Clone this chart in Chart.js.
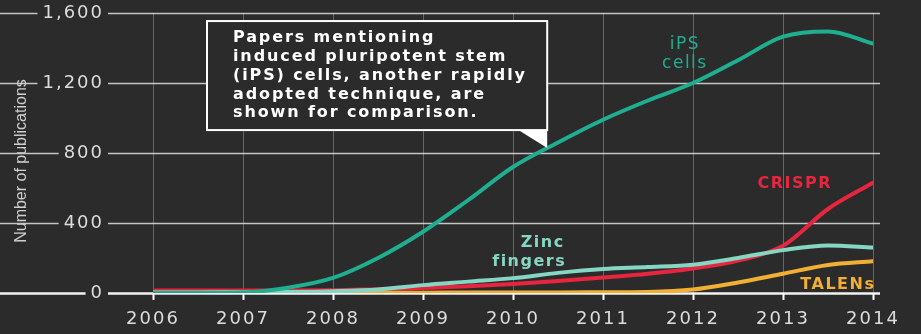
<!DOCTYPE html>
<html>
<head>
<meta charset="utf-8">
<script src="https://cdn.jsdelivr.net/npm/chart.js@4/dist/chart.umd.min.js"></script>
<style>
  html, body { margin: 0; padding: 0; background: #2b2b2b; }
  #wrap { width: 921px; height: 334px; }
</style>
</head>
<body>
<div id="wrap"><canvas id="chart" width="921" height="334"></canvas></div>
<script>
// half-year steps
const years = [2006, 2006.5, 2007, 2007.5, 2008, 2008.5, 2009, 2009.5, 2010, 2010.5, 2011, 2011.5, 2012, 2012.5, 2013, 2013.5, 2014];
const ipsCells = [0, 0, 3, 30, 86, 200, 350, 530, 720, 860, 990, 1100, 1200, 1330, 1465, 1495, 1425];
const zincFingers = [3, 3, 5, 6, 10, 20, 45, 65, 85, 115, 137, 148, 162, 200, 245, 272, 260];
const crispr = [14, 14, 15, 15, 16, 22, 28, 38, 52, 68, 88, 110, 140, 185, 270, 480, 630];
const talens = [2, 2, 2, 2, 2, 2, 2, 3, 3, 3, 4, 6, 20, 60, 110, 160, 182];
const yTicks = [0, 400, 800, 1200, 1600];
const yTitle = "Number of publications";
const calloutLines = [
  "Papers mentioning",
  "induced pluripotent stem",
  "(iPS) cells, another rapidly",
  "adopted technique, are",
  "shown for comparison.",
];

const BG = "#2b2b2b";
const COLORS = { ips: "#1fae90", zinc: "#86d6c4", crispr: "#e8253f", talens: "#f1b033" };
const TICK_FONT = { family: "DejaVu Sans", size: 18 };
const TICK_SPACING = "2px";

const pts = (arr) => years.map((x, i) => ({ x, y: arr[i] }));

// series labels placed in data units
const seriesLabels = [
  { text: "iPS", x: 2011.91, y: 1417, color: COLORS.ips, bold: false, size: 17 },
  { text: "cells", x: 2011.91, y: 1309, color: COLORS.ips, bold: false, size: 17 },
  { text: "CRISPR", x: 2013.13, y: 623, color: COLORS.crispr, bold: true, size: 16 },
  { text: "Zinc", x: 2010.33, y: 286, color: COLORS.zinc, bold: true, size: 16 },
  { text: "fingers", x: 2010.18, y: 177, color: COLORS.zinc, bold: true, size: 16 },
  { text: "TALENs", x: 2013.61, y: 46, color: COLORS.talens, bold: true, size: 16 },
];
const callout = { x0: 2006.6, x1: 2010.38, yTop: 1554, yBot: 931, tipX: 2010.38, tipY: 829, baseX: 2010.06 };

const decor = {
  id: "decor",
  beforeLayout(chart) { chart.ctx.letterSpacing = TICK_SPACING; },
  beforeDraw(chart) {
    const { ctx, scales: { y }, chartArea: a } = chart;
    ctx.save();
    ctx.fillStyle = BG;
    ctx.fillRect(0, 0, chart.width, chart.height);
    for (const v of yTicks) {
      const py = Math.round(y.getPixelForValue(v)) + 0.5;
      ctx.beginPath();
      ctx.moveTo(0, py);
      ctx.lineTo(a.right + 7, py);
      ctx.strokeStyle = v === 0 ? "#f2f2f2" : "rgba(235,235,235,0.8)";
      ctx.lineWidth = v === 0 ? 2.5 : 1.5;
      ctx.stroke();
    }
    // axis title
    ctx.translate(22, (a.top + a.bottom) / 2 + 8);
    ctx.rotate(-Math.PI / 2);
    ctx.letterSpacing = "0px";
    ctx.font = "16px 'Liberation Sans'";
    ctx.fillStyle = "#cfcfcf";
    ctx.textAlign = "center";
    ctx.textBaseline = "middle";
    ctx.fillText(yTitle, 0, 0);
    ctx.restore();
    ctx.letterSpacing = TICK_SPACING;
  },
  afterDatasetsDraw(chart) {
    const { ctx, scales: { x, y } } = chart;
    ctx.save();
    ctx.textAlign = "center";
    ctx.textBaseline = "middle";
    for (const l of seriesLabels) {
      ctx.font = (l.bold ? "bold " : "") + l.size + "px 'DejaVu Sans'";
      ctx.letterSpacing = "1.5px";
      ctx.fillStyle = l.color;
      ctx.fillText(l.text, x.getPixelForValue(l.x), y.getPixelForValue(l.y));
    }

    // callout box
    const L = x.getPixelForValue(callout.x0), R = x.getPixelForValue(callout.x1);
    const T = y.getPixelForValue(callout.yTop), B = y.getPixelForValue(callout.yBot);
    ctx.fillStyle = BG;
    ctx.fillRect(L, T, R - L, B - T);
    ctx.strokeStyle = "#ffffff";
    ctx.lineWidth = 2;
    ctx.strokeRect(L, T, R - L, B - T);
    ctx.beginPath();
    ctx.moveTo(x.getPixelForValue(callout.baseX), B);
    ctx.lineTo(x.getPixelForValue(callout.tipX), B);
    ctx.lineTo(x.getPixelForValue(callout.tipX), y.getPixelForValue(callout.tipY));
    ctx.closePath();
    ctx.fillStyle = "#ffffff";
    ctx.fill();

    ctx.font = "bold 16px 'DejaVu Sans'";
    ctx.letterSpacing = "0px";
    const w = ctx.measureText(calloutLines[2]).width;
    const ls = Math.max(0, Math.min(3, (292 - w) / (calloutLines[2].length - 1)));
    ctx.letterSpacing = ls.toFixed(2) + "px";
    ctx.textAlign = "left";
    ctx.fillStyle = "#ffffff";
    calloutLines.forEach((t, i) => ctx.fillText(t, L + 26, T + 17 + i * 18.8));
    ctx.restore();
  },
};

new Chart(document.getElementById("chart"), {
  type: "line",
  data: {
    datasets: [
      { label: "iPS cells", data: pts(ipsCells), borderColor: COLORS.ips },
      { label: "Zinc fingers", data: pts(zincFingers), borderColor: COLORS.zinc },
      { label: "TALENs", data: pts(talens), borderColor: COLORS.talens },
      { label: "CRISPR", data: pts(crispr), borderColor: COLORS.crispr },
    ],
  },
  options: {
    responsive: false,
    animation: false,
    layout: { padding: { top: 13, right: 48, left: 0, bottom: 0 } },
    elements: {
      point: { radius: 0 },
      line: { borderWidth: 4, cubicInterpolationMode: "monotone", fill: false, borderCapStyle: "round" },
    },
    plugins: { legend: { display: false }, tooltip: { enabled: false } },
    scales: {
      x: {
        type: "linear", min: 2006, max: 2014,
        afterFit: (s) => { s.height = 41; },
        border: { display: false },
        grid: { color: "rgba(255,255,255,0.28)", lineWidth: 1, tickColor: "#ffffff", tickLength: 7, tickWidth: 2 },
        ticks: { stepSize: 1, color: "#dcdcdc", font: TICK_FONT, padding: 9, maxRotation: 0, callback: (v) => String(v) },
      },
      y: {
        min: 0, max: 1600,
        afterFit: (s) => { s.width = 153; },
        afterBuildTicks: (s) => { s.ticks = yTicks.map((v) => ({ value: v })); },
        border: { display: false },
        grid: { display: false, drawTicks: true, tickLength: 47 },
        ticks: {
          color: "#dcdcdc", font: TICK_FONT, padding: 2,
          callback: (v) => v.toLocaleString("en-US"),
          showLabelBackdrop: true, backdropColor: BG, backdropPadding: { left: 5, right: 4, top: 0, bottom: 0 },
        },
        title: { display: false },
      },
    },
  },
  plugins: [decor],
});
</script>
</body>
</html>
